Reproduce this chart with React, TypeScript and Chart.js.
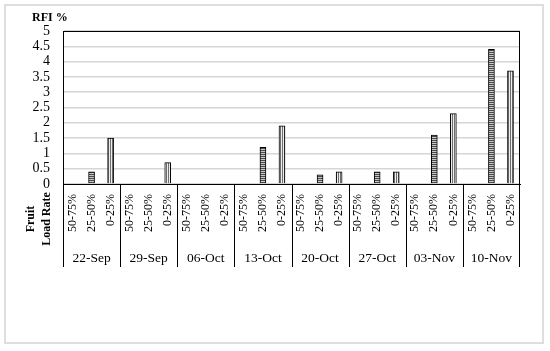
import React, { useEffect, useRef } from "react";
import { Chart, registerables } from "chart.js";
Chart.register(...registerables);

const dates = ["22-Sep", "29-Sep", "06-Oct", "13-Oct", "20-Oct", "27-Oct", "03-Nov", "10-Nov"];
const rates = ["50-75%", "25-50%", "0-25%"];
const rate50to75 = [0, 0, 0, 0, 0, 0, 0, 0];
const rate25to50 = [0.4, 0, 0, 1.2, 0.3, 0.4, 1.6, 4.4];
const rate0to25 = [1.5, 0.7, 0, 1.9, 0.4, 0.4, 2.3, 3.7];
const yTitle = "RFI %";
const xTitle = ["Fruit", "Load Rate"];

const FONT = "'Liberation Serif', 'Times New Roman', serif";

function makePattern(kind: "h" | "v"): CanvasPattern | string {
  const c = document.createElement("canvas");
  const ctx = c.getContext("2d");
  if (!ctx) return "#888";
  if (kind === "h") {
    c.width = 4; c.height = 2;
    ctx.fillStyle = "#4a4a4a"; ctx.fillRect(0, 0, 4, 1);
    ctx.fillStyle = "#c8c8c8"; ctx.fillRect(0, 1, 4, 1);
  } else {
    c.width = 2; c.height = 2;
    ctx.fillStyle = "#6e6e6e"; ctx.fillRect(0, 0, 1, 2);
    ctx.fillStyle = "#eeeeee"; ctx.fillRect(1, 0, 1, 2);
  }
  return ctx.createPattern(c, "repeat") || "#888";
}

export default function App() {
  const ref = useRef<HTMLCanvasElement | null>(null);
  useEffect(() => {
    if (!ref.current) return;
    const labels: string[] = [];
    const values: number[] = [];
    const colors: any[] = [];
    const hPat = makePattern("h");
    const vPat = makePattern("v");
    dates.forEach((_, i) => {
      const vals = [rate50to75[i], rate25to50[i], rate0to25[i]];
      rates.forEach((r, j) => {
        labels.push(r);
        values.push(vals[j]);
        colors.push(j === 0 ? "#888" : j === 1 ? hPat : vPat);
      });
    });

    const decor = {
      id: "decor",
      afterDraw(chart: any) {
        const { ctx, chartArea } = chart;
        const { left, right, top, bottom } = chartArea;
        ctx.save();
        ctx.strokeStyle = "#000";
        ctx.lineWidth = 1;
        ctx.beginPath();
        ctx.moveTo(left, top + 0.5);
        ctx.lineTo(right, top + 0.5);
        ctx.moveTo(Math.round(right) - 0.5, top);
        ctx.lineTo(Math.round(right) - 0.5, bottom);
        const gw = (right - left) / dates.length;
        for (let i = 0; i <= dates.length; i++) {
          const x = Math.round(left + i * gw) + (i === dates.length ? -0.5 : 0.5);
          ctx.moveTo(x, bottom);
          ctx.lineTo(x, bottom + 83);
        }
        ctx.stroke();
        ctx.fillStyle = "#000";
        ctx.font = `13.5px ${FONT}`;
        ctx.textAlign = "center";
        ctx.textBaseline = "middle";
        dates.forEach((d, i) => {
          ctx.fillText(d, left + (i + 0.5) * gw, bottom + 74);
        });
        ctx.font = `bold 12px ${FONT}`;
        ctx.textAlign = "left";
        ctx.fillText(yTitle, 32, 18);
        ctx.save();
        ctx.translate(31, 219);
        ctx.rotate(-Math.PI / 2);
        ctx.textAlign = "center";
        ctx.fillText(xTitle[0], 0, 0);
        ctx.restore();
        ctx.save();
        ctx.translate(47, 219);
        ctx.rotate(-Math.PI / 2);
        ctx.textAlign = "center";
        ctx.fillText(xTitle[1], 0, 0);
        ctx.restore();
        ctx.restore();
      },
    };

    const chart = new Chart(ref.current, {
      type: "bar",
      data: {
        labels,
        datasets: [
          {
            data: values,
            backgroundColor: colors,
            borderColor: "#000",
            borderWidth: 1,
            barThickness: 6,
          },
        ],
      },
      options: {
        responsive: false,
        animation: false,
        layout: { padding: { top: 31, right: 30, left: 0, bottom: 0 } },
        plugins: { legend: { display: false }, tooltip: { enabled: false } },
        scales: {
          x: {
            afterFit: (s: any) => { s.height = 167; },
            grid: { display: false, drawTicks: false },
            border: { display: true, color: "#000", width: 1 },
            ticks: {
              autoSkip: false,
              maxRotation: 90,
              minRotation: 90,
              padding: 10,
              color: "#000",
              font: { family: FONT, size: 12 },
            },
          },
          y: {
            min: 0,
            max: 5,
            afterFit: (s: any) => { s.width = 63; },
            grid: { color: "#d6d6d6", lineWidth: 1.5, drawTicks: false },
            border: { display: true, color: "#000", width: 1 },
            ticks: {
              stepSize: 0.5,
              autoSkip: false,
              padding: 13,
              color: "#000",
              font: { family: FONT, size: 14 },
              callback: (v: any) => String(v),
            },
          },
        },
      },
      plugins: [decor],
    });
    return () => chart.destroy();
  }, []);

  return (
    <div style={{ position: "absolute", left: 0, top: 0, width: 550, height: 351, background: "#fff" }}>
      <div
        style={{
          position: "absolute",
          left: 4,
          top: 4,
          width: 536,
          height: 336,
          border: "2px solid #dedede",
        }}
      />
      <canvas ref={ref} width={550} height={351} style={{ position: "absolute", left: 0, top: 0, width: 550, height: 351 }} />
    </div>
  );
}
